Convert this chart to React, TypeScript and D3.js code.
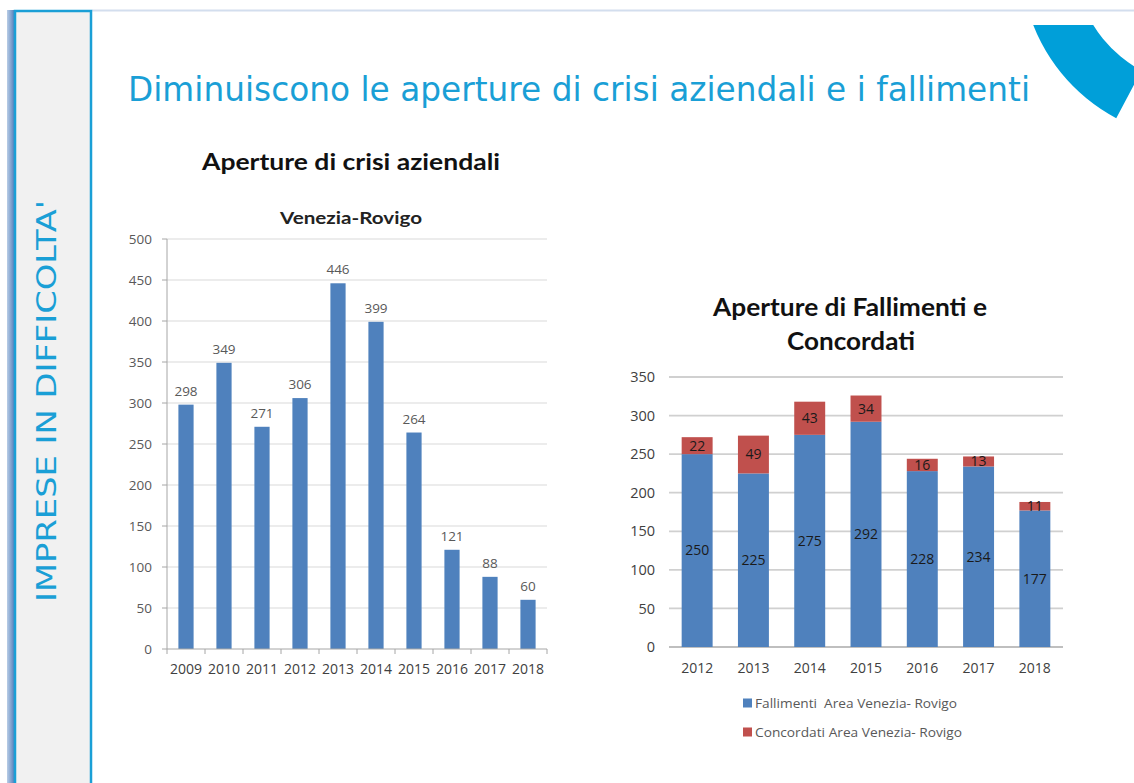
import React, { useEffect, useRef } from 'react';
import * as d3 from 'd3';

// Aperture di crisi aziendali, Venezia-Rovigo
const crisiYears = ['2009', '2010', '2011', '2012', '2013', '2014', '2015', '2016', '2017', '2018'];
const crisiValues = [298, 349, 271, 306, 446, 399, 264, 121, 88, 60];
const crisiTicks = [0, 50, 100, 150, 200, 250, 300, 350, 400, 450, 500];

// Fallimenti e Concordati
const stackYears = ['2012', '2013', '2014', '2015', '2016', '2017', '2018'];
const fallimenti = [250, 225, 275, 292, 228, 234, 177];
const concordati = [22, 49, 43, 34, 16, 13, 11];
const stackTicks = [0, 50, 100, 150, 200, 250, 300, 350];
const seriesNames = ['Fallimenti  Area Venezia- Rovigo', 'Concordati Area Venezia- Rovigo'];

const BLUE = '#4f81bd';
const RED = '#c0504d';
const ACCENT = '#1a9fd6';
const HEAD_FONT = 'Lato, "Open Sans", sans-serif';
const FONT = '"Open Sans", Lato, sans-serif';

const App = () => {
  const svgRef = useRef<SVGSVGElement>(null);

  useEffect(() => {
    const svg = d3.select(svgRef.current);
    svg.selectAll('*').remove();

    // ---- slide frame ----
    svg.append('rect').attr('width', 1134).attr('height', 783).attr('fill', '#fff');

    const defs = svg.append('defs');
    const grad = defs.append('linearGradient').attr('id', 'strip');
    grad.append('stop').attr('offset', '0%').attr('stop-color', '#b9cde6');
    grad.append('stop').attr('offset', '100%').attr('stop-color', '#4a78b8');
    svg.append('rect').attr('x', 7).attr('y', 10).attr('width', 8).attr('height', 773).attr('fill', 'url(#strip)');

    svg.append('line')
      .attr('x1', 92).attr('x2', 1134).attr('y1', 10.5).attr('y2', 10.5)
      .attr('stroke', '#d3deee').attr('stroke-width', 2);

    svg.append('rect')
      .attr('x', 15).attr('y', 11).attr('width', 76).attr('height', 780)
      .attr('fill', '#f1f1f1').attr('stroke', ACCENT).attr('stroke-width', 2.5);

    svg.append('text')
      .attr('transform', 'translate(56, 401) rotate(-90)')
      .attr('text-anchor', 'middle')
      .attr('font-family', '"DejaVu Sans Condensed", "DejaVu Sans", sans-serif')
      .attr('font-stretch', 'condensed')
      .attr('font-size', 26)
      .attr('textLength', 402).attr('lengthAdjust', 'spacingAndGlyphs')
      .attr('fill', ACCENT)
      .text("IMPRESE IN DIFFICOLTA'");

    // corner ornament
    defs.append('clipPath').attr('id', 'cornerClip')
      .append('rect').attr('x', 900).attr('y', 25).attr('width', 234).attr('height', 200);
    const arc = d3.arc<any>()
      .innerRadius(125).outerRadius(179)
      .startAngle((207.9 * Math.PI) / 180).endAngle((300 * Math.PI) / 180);
    svg.append('g').attr('clip-path', 'url(#cornerClip)')
      .append('path')
      .attr('transform', 'translate(1200, -40)')
      .attr('d', arc({}) as string)
      .attr('fill', '#009fd9');

    svg.append('text')
      .attr('x', 128).attr('y', 101)
      .attr('font-family', '"DejaVu Sans", sans-serif')
      .attr('font-size', 34)
      .attr('textLength', 902).attr('lengthAdjust', 'spacingAndGlyphs')
      .attr('fill', ACCENT)
      .text('Diminuiscono le aperture di crisi aziendali e i fallimenti');

    // ---- left chart ----
    const L = { left: 167, right: 547, top: 239, bottom: 649 };
    svg.append('text')
      .attr('x', 351).attr('y', 170).attr('text-anchor', 'middle')
      .attr('font-family', HEAD_FONT).attr('font-weight', 'bold').attr('font-size', 23)
      .attr('textLength', 298).attr('lengthAdjust', 'spacingAndGlyphs')
      .attr('fill', '#111').text('Aperture di crisi aziendali');
    svg.append('text')
      .attr('x', 351).attr('y', 224).attr('text-anchor', 'middle')
      .attr('font-family', HEAD_FONT).attr('font-weight', 'bold').attr('font-size', 17)
      .attr('textLength', 142).attr('lengthAdjust', 'spacingAndGlyphs')
      .attr('fill', '#222').text('Venezia-Rovigo');

    const x1 = d3.scaleBand().domain(crisiYears).range([L.left, L.right]).paddingInner(0.6).paddingOuter(0.3);
    const y1 = d3.scaleLinear().domain([0, 500]).range([L.bottom, L.top]);

    const g1 = svg.append('g').attr('font-family', FONT);
    g1.selectAll('line.grid').data(crisiTicks.slice(1)).join('line')
      .attr('x1', L.left).attr('x2', L.right)
      .attr('y1', d => y1(d)).attr('y2', d => y1(d))
      .attr('stroke', '#d9d9d9').attr('stroke-width', 1.2);

    g1.append('line').attr('x1', L.left).attr('x2', L.left).attr('y1', L.top).attr('y2', L.bottom)
      .attr('stroke', '#a6a6a6');
    g1.selectAll('line.ytick').data(crisiTicks).join('line')
      .attr('x1', L.left - 5).attr('x2', L.left)
      .attr('y1', d => y1(d)).attr('y2', d => y1(d)).attr('stroke', '#a6a6a6');
    g1.selectAll('text.ylab').data(crisiTicks).join('text')
      .attr('x', 152).attr('y', d => y1(d)).attr('dy', '0.35em').attr('text-anchor', 'end')
      .attr('font-size', 13.5).attr('fill', '#595959').text(d => d);

    g1.selectAll('rect.bar').data(crisiValues).join('rect')
      .attr('x', (_, i) => x1(crisiYears[i])!)
      .attr('width', x1.bandwidth())
      .attr('y', d => y1(d)).attr('height', d => y1(0) - y1(d))
      .attr('fill', BLUE);
    g1.selectAll('text.val').data(crisiValues).join('text')
      .attr('x', (_, i) => x1(crisiYears[i])! + x1.bandwidth() / 2)
      .attr('y', d => y1(d) - 9).attr('text-anchor', 'middle')
      .attr('font-size', 13.5).attr('fill', '#595959').text(d => d);

    g1.append('line').attr('x1', L.left).attr('x2', L.right).attr('y1', L.bottom).attr('y2', L.bottom)
      .attr('stroke', '#a6a6a6');
    const step1 = x1.step();
    g1.selectAll('line.xtick').data(d3.range(crisiYears.length + 1)).join('line')
      .attr('x1', i => L.left + i * step1).attr('x2', i => L.left + i * step1)
      .attr('y1', L.bottom).attr('y2', L.bottom + 5).attr('stroke', '#a6a6a6');
    g1.selectAll('text.xlab').data(crisiYears).join('text')
      .attr('x', d => x1(d)! + x1.bandwidth() / 2).attr('y', 674).attr('text-anchor', 'middle')
      .attr('font-size', 14).attr('fill', '#404040').text(d => d);

    // ---- right chart ----
    const R = { left: 669, right: 1063, top: 377, bottom: 647 };
    const h2 = svg.append('text').attr('text-anchor', 'middle')
      .attr('font-family', HEAD_FONT).attr('font-weight', 'bold').attr('font-size', 24).attr('fill', '#111');
    h2.append('tspan').attr('x', 850).attr('y', 316)
      .attr('textLength', 274).attr('lengthAdjust', 'spacingAndGlyphs').text('Aperture di Fallimenti e');
    h2.append('tspan').attr('x', 851).attr('y', 350)
      .attr('textLength', 128).attr('lengthAdjust', 'spacingAndGlyphs').text('Concordati');

    const x2 = d3.scaleBand().domain(stackYears).range([R.left, R.right]).paddingInner(0.45).paddingOuter(0.225);
    const y2 = d3.scaleLinear().domain([0, 350]).range([R.bottom, R.top]);

    const rows = stackYears.map((year, i) => ({ year, fall: fallimenti[i], conc: concordati[i] }));
    const stacked = d3.stack<any>().keys(['fall', 'conc'])(rows);
    const colors = [BLUE, RED];

    const g2 = svg.append('g').attr('font-family', FONT);
    g2.selectAll('line.grid').data(stackTicks).join('line')
      .attr('x1', R.left).attr('x2', R.right)
      .attr('y1', d => y2(d)).attr('y2', d => y2(d))
      .attr('stroke', d => (d === 0 ? '#bfbfbf' : '#d0d0d0')).attr('stroke-width', 1.8);
    g2.selectAll('text.ylab').data(stackTicks).join('text')
      .attr('x', 655).attr('y', d => y2(d)).attr('dy', '0.35em').attr('text-anchor', 'end')
      .attr('font-size', 14.5).attr('fill', '#404040').text(d => d);

    stacked.forEach((layer, k) => {
      g2.append('g').selectAll('rect').data(layer).join('rect')
        .attr('x', d => x2(d.data.year)!)
        .attr('width', x2.bandwidth())
        .attr('y', d => y2(d[1])).attr('height', d => y2(d[0]) - y2(d[1]))
        .attr('fill', colors[k]);
      g2.append('g').selectAll('text').data(layer).join('text')
        .attr('x', d => x2(d.data.year)! + x2.bandwidth() / 2)
        .attr('y', d => y2((d[0] + d[1]) / 2)).attr('dy', '0.35em')
        .attr('text-anchor', 'middle').attr('font-size', 14).attr('fill', '#1a1a1a')
        .text(d => d[1] - d[0]);
    });

    g2.selectAll('text.xlab').data(stackYears).join('text')
      .attr('x', d => x2(d)! + x2.bandwidth() / 2).attr('y', 673).attr('text-anchor', 'middle')
      .attr('font-size', 14).attr('fill', '#404040').text(d => d);

    const legendLen = [202, 207];
    const leg = g2.selectAll('g.leg').data(seriesNames).join('g')
      .attr('transform', (_, i) => `translate(743, ${703 + i * 29})`);
    leg.append('rect').attr('x', 0).attr('y', -4.5).attr('width', 9).attr('height', 9)
      .attr('fill', (_, i) => colors[i]);
    leg.append('text').attr('x', 12).attr('y', 0).attr('dy', '0.35em')
      .attr('font-size', 13).attr('fill', '#595959').attr('xml:space', 'preserve')
      .attr('textLength', (_, i) => legendLen[i]).attr('lengthAdjust', 'spacingAndGlyphs')
      .text(d => d);
  }, []);

  return (
    <svg
      ref={svgRef}
      width={1134}
      height={783}
      style={{ position: 'absolute', left: 0, top: 0, display: 'block' }}
    />
  );
};

export default App;
